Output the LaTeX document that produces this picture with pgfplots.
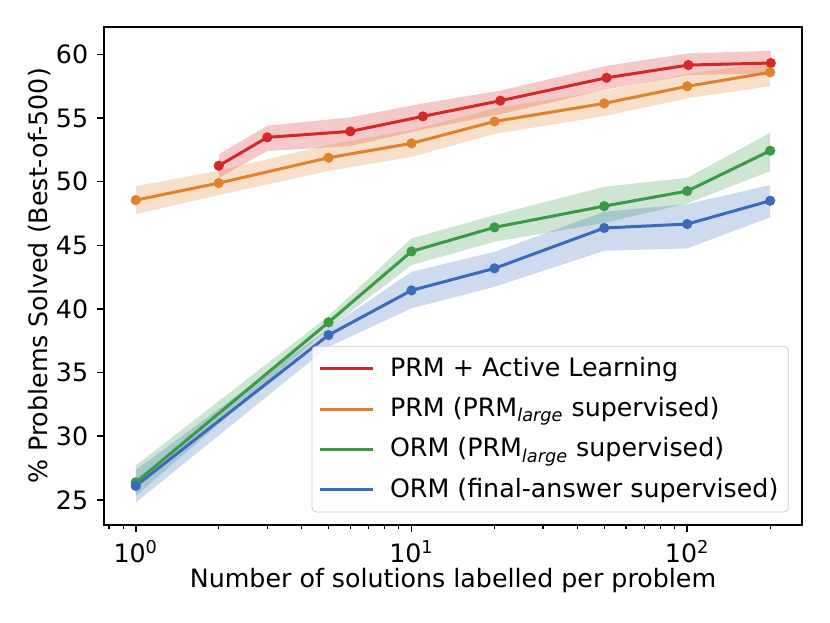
\documentclass[border=0pt]{standalone}
\usepackage{pgfplots}
\pgfplotsset{compat=1.18}
\usepackage{fontspec}
\setmainfont{DejaVu Sans}
\definecolor{cred}{HTML}{D62728}
\definecolor{corange}{HTML}{E1812C}
\definecolor{cgreen}{HTML}{3A9A46}
\definecolor{cblue}{HTML}{3A6BBA}
\newcommand{\myfont}{\fontsize{12.7}{15.2}\selectfont}
\begin{document}
\begin{tikzpicture}
\myfont
\begin{axis}[
  xmode=log, log basis x=10,
  width=349bp, height=249bp, scale only axis,
  xmin=0.767, xmax=260.8, ymin=23.03, ymax=62.15,
  xtick={1,10,100},
  xticklabels={10\textsuperscript{0},10\textsuperscript{1},10\textsuperscript{2}},
  minor xtick={0.8,0.9,2,3,4,5,6,7,8,9,20,30,40,50,60,70,80,90,200},
  ytick={25,30,35,40,45,50,55,60},
  /pgf/number format/assume math mode=true,
  tick align=outside, tick pos=left,
  major tick length=3.5bp, minor tick length=2bp,
  every major tick/.append style={black, line width=0.8bp},
  every minor tick/.append style={black, line width=0.6bp},
  axis line style={line width=0.8bp},
  ticklabel style={font=\myfont},
  label style={font=\myfont},
  xlabel={Number of solutions labelled per problem},
  ylabel={\% Problems Solved (Best-of-500)},
  xlabel style={at={(axis description cs:0.5,-0.1265)}, anchor=base},
  ylabel style={at={(axis description cs:-0.063,0.5)}, anchor=south},
  legend style={at={(0.981,0.0255)}, anchor=south east, draw=black!20,
    rounded corners=2bp, fill=white, fill opacity=0.8, text opacity=1,
    font=\myfont, row sep=4.6bp, inner xsep=3bp, inner ysep=3.5bp},
  legend cell align=left,
  legend image code/.code={\draw[#1] (0bp,0bp) -- (26.5bp,0bp); \path (32.5bp,0bp);},
]
% bands
\addplot[draw=none, fill=cred, fill opacity=0.25, forget plot] coordinates {
(2,52.15) (3,54.4) (6,55.05) (11,56.15) (21,57.15) (51,59.1) (101,60.08) (201,60.28)
(201,58.5) (101,58.37) (51,57.25) (21,55.3) (11,54.1) (6,52.8) (3,52.4) (2,50.3)} -- cycle;
\addplot[draw=none, fill=corange, fill opacity=0.25, forget plot] coordinates {
(1,49.65) (2,50.85) (5,52.9) (10,54.05) (20,55.75) (50,57.15) (100,58.45) (200,59.4)
(200,57.5) (100,56.55) (50,55.15) (20,53.75) (10,51.95) (5,50.85) (2,48.95) (1,47.45)} -- cycle;
\addplot[draw=none, fill=cgreen, fill opacity=0.25, forget plot] coordinates {
(1,27.7) (5,39.45) (10,45.55) (20,47.37) (50,49.6) (100,50.3) (200,53.84)
(200,50.83) (100,48.3) (50,46.75) (20,45.28) (10,43.45) (5,38.45) (1,25.3)} -- cycle;
\addplot[draw=none, fill=cblue, fill opacity=0.25, forget plot] coordinates {
(1,27.35) (5,38.48) (10,42.92) (20,44.49) (50,47.64) (100,48.24) (200,49.73)
(200,47.2) (100,44.76) (50,44.57) (20,41.74) (10,40.05) (5,37.03) (1,24.8)} -- cycle;
% lines
\addplot[cred, line width=1.5bp, mark=*, mark size=1.75bp, mark options={solid}] coordinates {
(2,51.25) (3,53.48) (6,53.95) (11,55.13) (21,56.36) (51,58.16) (101,59.16) (201,59.32)};
\addlegendentry{PRM + Active Learning}
\addplot[corange, line width=1.5bp, mark=*, mark size=1.75bp] coordinates {
(1,48.55) (2,49.89) (5,51.88) (10,53.01) (20,54.73) (50,56.15) (100,57.49) (200,58.59)};
\addlegendentry{PRM (PRM\textsubscript{\textit{large}} supervised)}
\addplot[cgreen, line width=1.5bp, mark=*, mark size=1.75bp] coordinates {
(1,26.38) (5,38.95) (10,44.52) (20,46.41) (50,48.08) (100,49.26) (200,52.43)};
\addlegendentry{ORM (PRM\textsubscript{\textit{large}} supervised)}
\addplot[cblue, line width=1.5bp, mark=*, mark size=1.75bp] coordinates {
(1,26.1) (5,37.95) (10,41.46) (20,43.19) (50,46.36) (100,46.67) (200,48.5)};
\addlegendentry{ORM (final-answer supervised)}
\end{axis}
\pgfresetboundingbox
\path ([xshift=-52bp,yshift=-49bp]current axis.south west) rectangle ([xshift=14bp,yshift=13.5bp]current axis.north east);
\end{tikzpicture}
\end{document}
